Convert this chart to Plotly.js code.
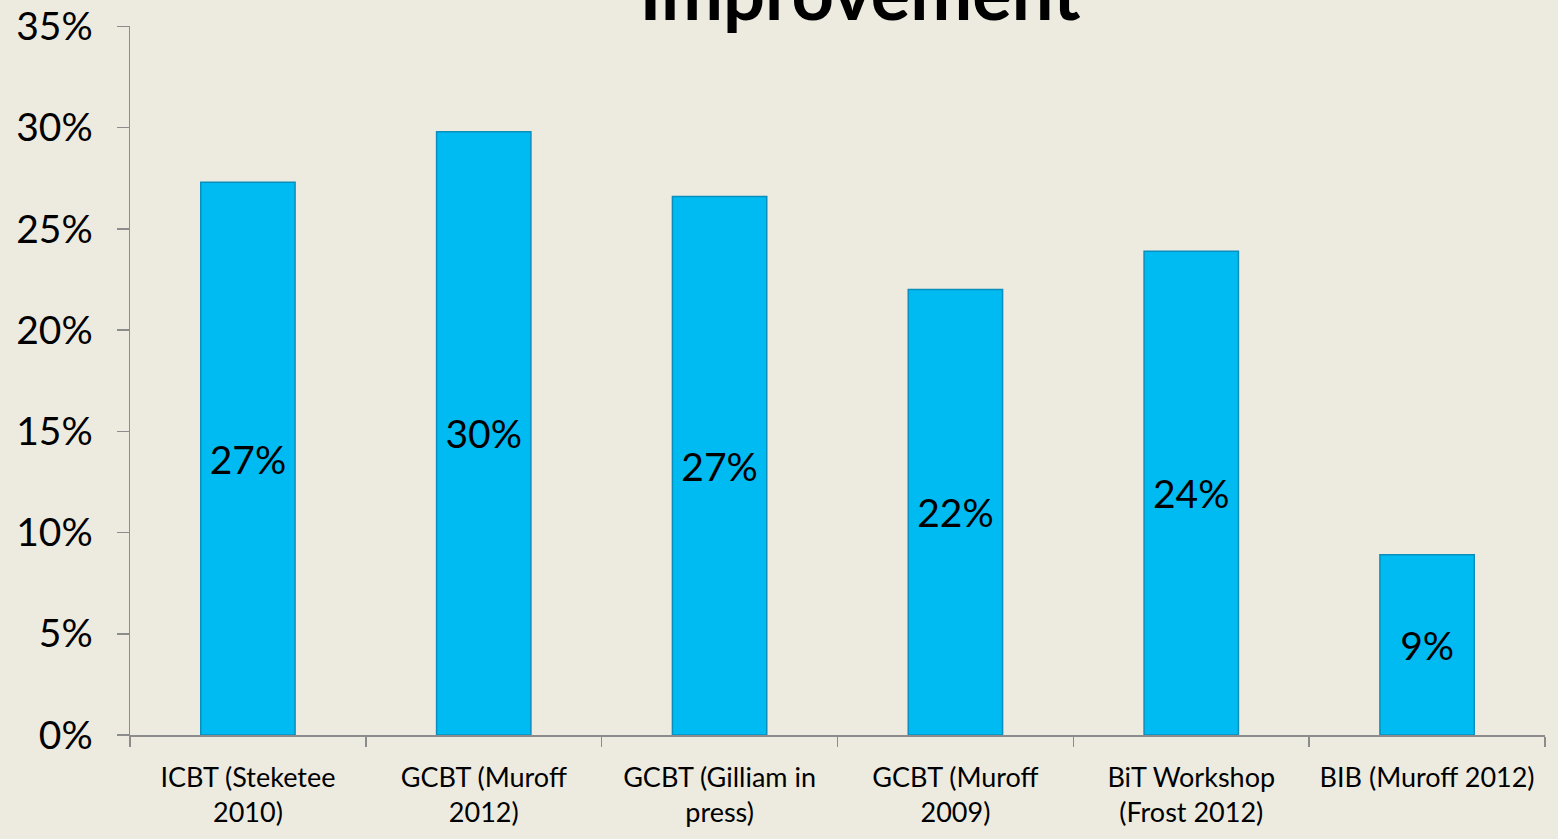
<!DOCTYPE html>
<html>
<head>
<meta charset="utf-8">
<script src="https://cdn.plot.ly/plotly-3.0.1.min.js"></script>
<style>
  html, body { margin: 0; padding: 0; background: #EDEBE0; }
  #chart { width: 1558px; height: 839px; }
</style>
</head>
<body>
<div id="chart"></div>
<script>
const chartTitle = "Improvement";
const categories = [
  "ICBT (Steketee<br>2010)",
  "GCBT (Muroff<br>2012)",
  "GCBT (Gilliam in<br>press)",
  "GCBT (Muroff<br>2009)",
  "BiT Workshop<br>(Frost 2012)",
  "BIB (Muroff 2012)"
];
const improvement = [0.273, 0.298, 0.266, 0.22, 0.239, 0.089];
const yTickValues = [0, 0.05, 0.10, 0.15, 0.20, 0.25, 0.30, 0.35];

const FONT = "Lato, 'Open Sans', sans-serif";

const trace = {
  type: "bar",
  x: categories,
  y: improvement,
  width: 0.4,
  marker: { color: "#00BAF2", line: { color: "#0A8FBC", width: 1.5 } },
  texttemplate: "%{y:.0%}",
  textposition: "inside",
  insidetextanchor: "middle",
  textangle: 0,
  textfont: { family: FONT, size: 39, color: "#000000" },
  constraintext: "none",
  hoverinfo: "skip"
};

const layout = {
  width: 1558,
  height: 839,
  paper_bgcolor: "#EDEBE0",
  plot_bgcolor: "#EDEBE0",
  margin: { l: 130, r: 13, t: 26, b: 104 },
  showlegend: false,
  title: {
    text: "<b>" + chartTitle + "</b>",
    font: { family: FONT, size: 74, color: "#000000" },
    xref: "container", x: 0.552, xanchor: "center",
    yref: "container", y: 0.976, yanchor: "bottom"
  },
  xaxis: {
    type: "category",
    showline: true, linecolor: "#8C8C8C", linewidth: 1.5,
    ticks: "outside", tickson: "boundaries", ticklen: 10, tickcolor: "#8C8C8C", tickwidth: 1.5,
    showgrid: false, zeroline: false,
    tickfont: { family: FONT, size: 27, color: "#000000" },
    ticklabelstandoff: 18
  },
  yaxis: {
    range: [0, 0.3502],
    tickvals: yTickValues,
    tickformat: ".0%",
    showline: true, linecolor: "#8C8C8C", linewidth: 1.5,
    ticks: "outside", ticklen: 12, tickcolor: "#8C8C8C", tickwidth: 1.5,
    showgrid: false, zeroline: false,
    tickfont: { family: FONT, size: 39, color: "#000000" },
    ticklabelstandoff: 16
  },
  bargap: 0.6
};

Plotly.newPlot("chart", [trace], layout, { staticPlot: true, displayModeBar: false });
</script>
</body>
</html>
